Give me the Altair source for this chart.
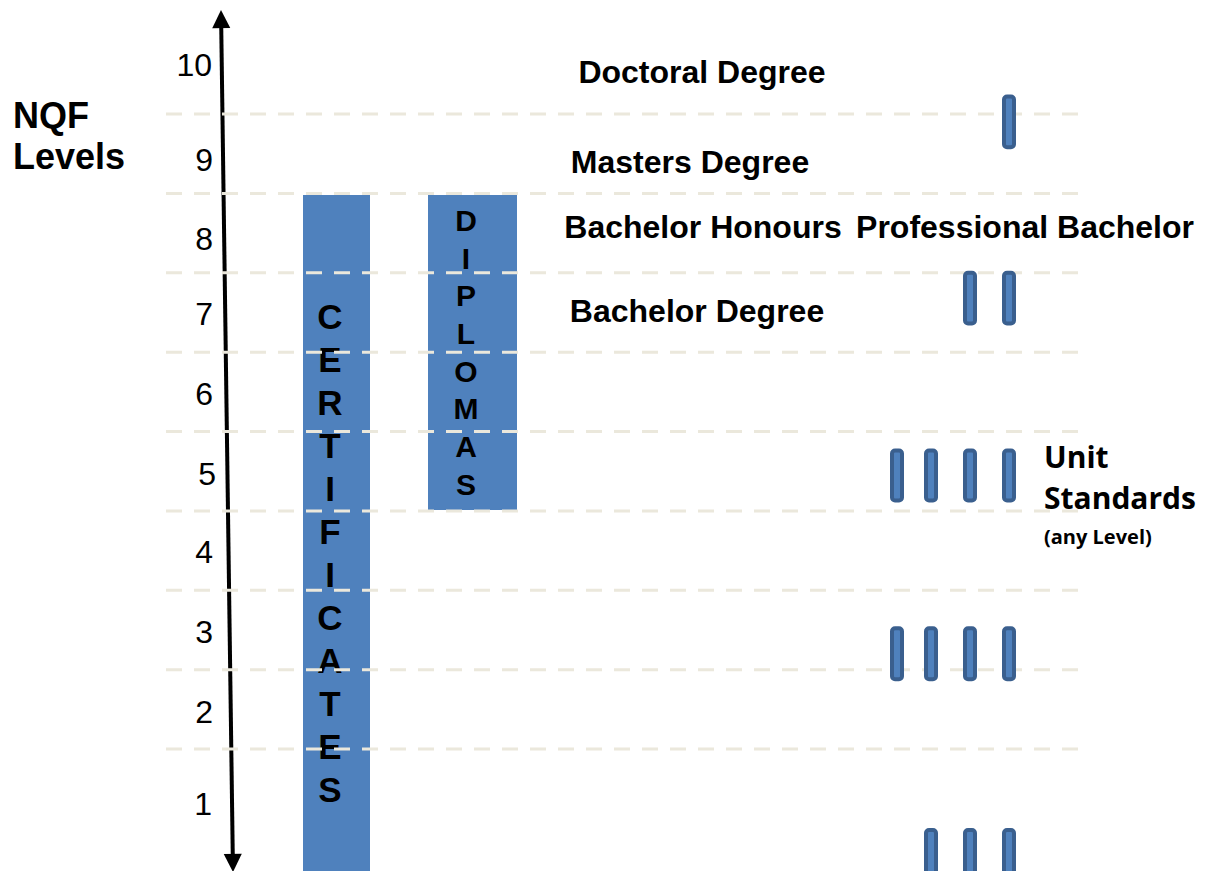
import altair as alt
import pandas as pd

# ---------------- data ----------------
# y values are in "NQF level" units; dashed guides sit between levels
grid_levels = [1.5, 2.5, 3.5, 4.5, 5.5, 6.5, 7.5, 8.5, 9.5]
grid_x_from = [166]
grid_x_to = [1080]

level_labels = ["10", "9", "8", "7", "6", "5", "4", "3", "2", "1"]
level_label_y = [10.105, 8.908, 7.913, 6.968, 5.96, 4.95, 3.97, 2.96, 1.95, 0.795]
level_label_x = [212, 213, 213, 213, 213, 216, 213, 213, 213, 212]

block_names = ["CERTIFICATES", "DIPLOMAS"]
block_x0 = [303, 428]
block_x1 = [370, 517]
block_bottom = [-0.3, 4.51]
block_top = [8.48, 8.48]
block_text_x = [330, 466]
block_text_y = [6.93, 8.14]      # position of the first letter
block_line_height = [43, 37.7]
block_font_size = [35, 30]

qual_names = ["Doctoral Degree", "Masters Degree", "Bachelor Honours",
              "Professional Bachelor", "Bachelor Degree"]
qual_x = [702, 690, 703, 1025, 697]
qual_y = [10.017, 8.883, 8.064, 8.064, 7.006]

unit_row_top = [9.72, 7.50, 5.26, 3.02, 0.48]
unit_row_bottom = [9.08, 6.86, 4.63, 2.38, -0.3]
unit_row_cols = [[1009], [970, 1009], [897, 931, 970, 1009],
                 [897, 931, 970, 1009], [931, 970, 1009]]

unit_text = ["Unit", "Standards", "(any Level)"]
unit_text_y = [5.154, 4.637, 4.158]
unit_text_size = [30, 30, 20]
unit_text_x = [1044]

axis_title = ["NQF", "Levels"]
axis_title_y = [9.462, 8.946]
axis_title_x = [13]

arrow_tip_x = [221, 233]
arrow_tip_y = [10.81, -0.05]

# ---------------- geometry helpers ----------------
W, H = 1191, 863
PX_PER_LEVEL = 79.375
Y_MAX = 1.5 + (749 - 8) / PX_PER_LEVEL
Y_MIN = 1.5 - (871 - 749) / PX_PER_LEVEL

xs = alt.Scale(domain=[8, 8 + W], nice=False, zero=False)
ys = alt.Scale(domain=[Y_MIN, Y_MAX], nice=False, zero=False)

BLUE = "#4f81bd"
DARK = "#3a5f8e"


def X(f):
    return alt.X(f, type="quantitative", scale=xs, axis=None)


def Y(f):
    return alt.Y(f, type="quantitative", scale=ys, axis=None)


# big blocks
df_blocks = pd.DataFrame({"name": block_names, "x0": block_x0, "x1": block_x1,
                          "y0": block_bottom, "y1": block_top})
blocks = alt.Chart(df_blocks).mark_rect(color=BLUE).encode(
    x=X("x0"), x2="x1", y=Y("y0"), y2="y1")

block_letters = []
for i, name in enumerate(block_names):
    d = pd.DataFrame({"t": ["\n".join(name)], "x": [block_text_x[i]], "y": [block_text_y[i]]})
    block_letters.append(alt.Chart(d).mark_text(
        font="Liberation Sans", fontWeight="bold", fontSize=block_font_size[i],
        lineBreak="\n", lineHeight=block_line_height[i], baseline="middle",
        align="center", color="black").encode(x=X("x"), y=Y("y"), text="t:N"))

# arrow
hr = 12.9  # arrow head radius in px
dy_units = hr / PX_PER_LEVEL
slope = (arrow_tip_x[1] - arrow_tip_x[0]) / ((arrow_tip_y[0] - arrow_tip_y[1]) * PX_PER_LEVEL)
top_cx = arrow_tip_x[0] + slope * hr
bot_cx = arrow_tip_x[1] - slope * hr
df_shaft = pd.DataFrame({"x": [top_cx], "x2": [bot_cx],
                         "y": [arrow_tip_y[0] - dy_units], "y2": [arrow_tip_y[1] + dy_units]})
shaft = alt.Chart(df_shaft).mark_rule(color="black", strokeWidth=4).encode(
    x=X("x"), x2="x2", y=Y("y"), y2="y2")
head_up = alt.Chart(pd.DataFrame({"x": [top_cx], "y": [arrow_tip_y[0] - dy_units]})).mark_point(
    shape="M0,-1L0.7,0.4L-0.7,0.4Z", filled=True, fill="black", opacity=1,
    strokeWidth=0, size=(2 * hr) ** 2, angle=359.2).encode(x=X("x"), y=Y("y"))
head_down = alt.Chart(pd.DataFrame({"x": [bot_cx], "y": [arrow_tip_y[1] + dy_units]})).mark_point(
    shape="M0,1L0.7,-0.4L-0.7,-0.4Z", filled=True, fill="black", opacity=1,
    strokeWidth=0, size=(2 * hr) ** 2, angle=359.2).encode(x=X("x"), y=Y("y"))

# dashed guides
df_grid = pd.DataFrame({"y": grid_levels, "x": grid_x_from * len(grid_levels),
                        "x2": grid_x_to * len(grid_levels)})
grid = alt.Chart(df_grid).mark_rule(color="#ebe8dc", strokeWidth=3, strokeDash=[16, 12]).encode(
    x=X("x"), x2="x2", y=Y("y"))

# unit standard pills
rows = []
for top, bot, cols in zip(unit_row_top, unit_row_bottom, unit_row_cols):
    for c in cols:
        rows.append({"x0": c - 5, "x1": c + 5, "y0": bot, "y1": top})
df_units = pd.DataFrame(rows)
units = alt.Chart(df_units).mark_rect(fill=BLUE, stroke=DARK, strokeWidth=4,
                                      cornerRadius=3).encode(
    x=X("x0"), x2="x1", y=Y("y0"), y2="y1")

# level numbers
df_lv = pd.DataFrame({"t": level_labels, "x": level_label_x, "y": level_label_y})
levels = alt.Chart(df_lv).mark_text(font="Liberation Sans", fontSize=32, align="right",
                                    baseline="middle", color="black").encode(
    x=X("x"), y=Y("y"), text="t:N")

# qualification names
df_q = pd.DataFrame({"t": qual_names, "x": qual_x, "y": qual_y})
quals = alt.Chart(df_q).mark_text(font="Liberation Sans", fontWeight="bold", fontSize=32,
                                  align="center", baseline="middle", color="black").encode(
    x=X("x"), y=Y("y"), text="t:N")

# axis title
df_t = pd.DataFrame({"t": axis_title, "x": axis_title_x * 2, "y": axis_title_y})
title = alt.Chart(df_t).mark_text(font="Liberation Sans", fontWeight="bold", fontSize=36,
                                  align="left", baseline="middle", color="black").encode(
    x=X("x"), y=Y("y"), text="t:N")

# unit standards text
df_u = pd.DataFrame({"t": unit_text, "x": unit_text_x * 3, "y": unit_text_y,
                     "s": unit_text_size})
utext = alt.Chart(df_u).mark_text(font="Open Sans", fontWeight="bold", align="left",
                                  baseline="middle", color="black").encode(
    x=X("x"), y=Y("y"), text="t:N",
    size=alt.Size("s:Q", scale=None, legend=None))

chart = alt.layer(blocks, *block_letters, shaft, head_up, head_down, grid, units,
                  levels, quals, title, utext).properties(
    width=W, height=H, padding=0,
    autosize=alt.AutoSizeParams(type="none")
).configure_view(stroke=None)

chart.save("out.html", embed_options={"renderer": "svg", "actions": False})
